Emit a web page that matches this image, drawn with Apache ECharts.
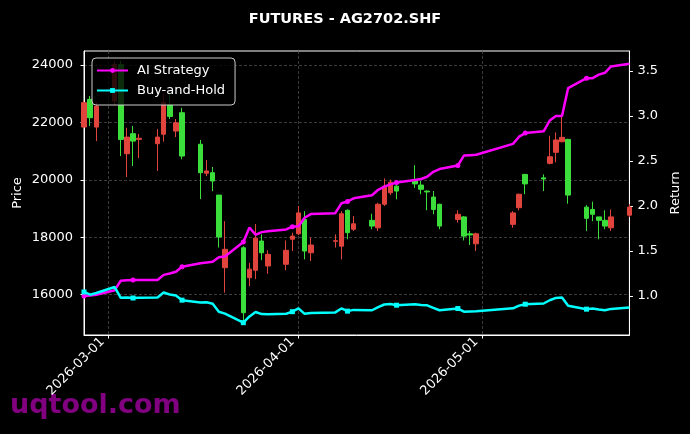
<!DOCTYPE html>
<html>
<head>
<meta charset="utf-8">
<script src="https://cdn.jsdelivr.net/npm/echarts@6/dist/echarts.min.js"></script>
<style>
html,body{margin:0;padding:0;background:#000;}
#c{width:690px;height:434px;}
</style>
</head>
<body>
<div id="c"></div>
<script>
// ---- data ----
const dates = [
 '2026-02-25','2026-02-26','2026-02-27','2026-03-02','2026-03-03','2026-03-04','2026-03-05','2026-03-06',
 '2026-03-09','2026-03-10','2026-03-11','2026-03-12','2026-03-13','2026-03-16','2026-03-17','2026-03-18',
 '2026-03-19','2026-03-20','2026-03-23','2026-03-24','2026-03-25','2026-03-26','2026-03-27','2026-03-30',
 '2026-03-31','2026-04-01','2026-04-02','2026-04-03','2026-04-07','2026-04-08','2026-04-09','2026-04-10',
 '2026-04-13','2026-04-14','2026-04-15','2026-04-16','2026-04-17','2026-04-20','2026-04-21','2026-04-22',
 '2026-04-23','2026-04-24','2026-04-27','2026-04-28','2026-04-29','2026-04-30','2026-05-06','2026-05-07',
 '2026-05-08','2026-05-11','2026-05-12','2026-05-13','2026-05-14','2026-05-15','2026-05-18','2026-05-19',
 '2026-05-20','2026-05-21','2026-05-22','2026-05-25'
];
const opens = [
 21840,22805,21840,22750,24020,20910,21610,21410,21260,21590,22620,21700,22340,21240,20230,20250,
 19470,16940,17635,16590,16850,17870,17000,17060,17930,18120,18620,17460,17860,17690,18940,18280,
 18590,18330,19150,19550,19780,19980,19820,19610,19400,19150,18620,18710,18120,17770,18450,19030,
 20190,20070,20575,20960,21330,21410,19050,18970,18710,18590,18330,18770
];
const closes = [
 22690,22164,22570,24020,21410,21490,21350,21450,21490,22700,22210,21990,20830,20250,20310,19960,
 18010,17580,15370,16890,17970,17460,17405,17545,18040,18850,17520,17730,17880,18820,18160,18470,
 18390,19150,19780,19920,19610,19860,19670,19580,18970,18390,18800,18040,18080,18120,18850,19500,
 19860,20030,20805,21390,21480,19470,18660,18800,18590,18390,18710,19050
];
const lows = [
 21800,21875,21350,22600,20830,20100,20480,20760,20310,21330,22120,21490,20715,19330,20130,19610,
 17640,16070,15020,16300,16540,17200,16730,16850,17520,18080,17230,17170,17640,17230,17930,18220,
 18280,18220,19090,19470,19320,19720,19500,18940,18800,18280,18510,17890,17730,17520,18330,18940,
 19500,19610,20540,20610,21310,19170,18220,18560,17930,18280,18220,18700
];
const highs = [
 22750,22920,22700,24150,24150,21815,21875,21600,21770,23000,22990,22120,22510,21390,20690,20450,
 19470,18560,17690,17110,18460,18100,17545,17890,18160,19090,18910,17985,18100,18910,18970,18740,
 18820,19200,20050,20010,19860,20510,19960,19635,19610,19170,18940,18740,18220,18160,18910,19520,
 20210,20190,21535,21655,22200,21430,19120,19240,18710,18940,18970,19150
];
const aiReturn = [
 1.000,1.005,1.015,1.065,1.170,1.175,1.178,1.178,1.178,1.235,1.250,1.270,1.326,1.365,1.372,1.380,
 1.430,1.440,1.600,1.760,1.680,1.710,1.720,1.740,1.770,1.775,1.870,1.910,1.920,2.030,2.050,2.085,
 2.120,2.180,2.215,2.240,2.260,2.290,2.300,2.325,2.380,2.410,2.450,2.560,2.565,2.570,2.690,2.770,
 2.810,2.830,2.950,3.000,3.000,3.310,3.420,3.420,3.460,3.480,3.550,3.580
];
const bhReturn = [
 1.045,1.015,1.033,1.100,0.980,0.984,0.978,0.982,0.984,1.039,1.017,1.007,0.954,0.927,0.930,0.914,
 0.825,0.805,0.704,0.773,0.823,0.799,0.797,0.803,0.826,0.863,0.802,0.812,0.818,0.862,0.832,0.846,
 0.842,0.877,0.906,0.912,0.898,0.909,0.901,0.897,0.869,0.842,0.861,0.826,0.828,0.830,0.863,0.893,
 0.909,0.917,0.953,0.979,0.984,0.891,0.854,0.861,0.851,0.842,0.857,0.872
];
const xTickLabels = ['2026-03-01','2026-04-01','2026-05-01'];
const priceTicks = [16000,18000,20000,22000,24000];
const returnTicks = [1.0,1.5,2.0,2.5,3.0,3.5];
const seriesNames = ['AI Strategy','Buy-and-Hold'];
const titleText = 'FUTURES - AG2702.SHF';

// ---- chart ----
const FONT = '"DejaVu Sans", sans-serif';
const UP = '#e0443d', DOWN = '#3bde3b';
const MARK_EVERY = 6;

const ts = s => new Date(s + 'T00:00:00').getTime();
const xs = dates.map(ts);
const xTickValues = xTickLabels.map(ts);

const candleData = xs.map((x, i) => [x, opens[i], closes[i], lows[i], highs[i]]);
function lineData(vals) {
  return xs.map((x, i) => i % MARK_EVERY === 0 ? [x, vals[i]] : {value: [x, vals[i]], symbol: 'none'});
}
function fmtDate(v) {
  const d = new Date(v);
  const p = n => (n < 10 ? '0' : '') + n;
  return d.getFullYear() + '-' + p(d.getMonth() + 1) + '-' + p(d.getDate());
}

const gridLine = {show: true, lineStyle: {color: '#4a4a4a', type: [3, 2], width: 0.8}};
const chart = echarts.init(document.getElementById('c'), null, {renderer: 'canvas'});
chart.setOption({
  backgroundColor: '#000',
  animation: false,
  title: {
    text: titleText, left: 'center', top: 12, padding: 0,
    textStyle: {color: '#fff', fontFamily: FONT, fontWeight: 'bold', fontSize: 14.5}
  },
  grid: {left: 84, right: 60, top: 51, bottom: 99, show: true, borderColor: '#fff', borderWidth: 1, backgroundColor: 'transparent'},
  legend: {
    data: seriesNames, orient: 'vertical', left: 92, top: 58,
    backgroundColor: 'rgba(0,0,0,0.8)', borderColor: '#cccccc', borderWidth: 1, borderRadius: 4,
    padding: [6, 10, 8, 4], itemGap: 7, itemWidth: 31, itemHeight: 6,
    textStyle: {color: '#fff', fontFamily: FONT, fontSize: 13, padding: [0, 0, 0, 4]}
  },
  xAxis: {
    type: 'value', min: xs[0], max: xs[xs.length - 1], scale: true,
    axisLine: {show: true, onZero: false, lineStyle: {color: '#fff'}},
    axisTick: {show: true, length: 3.5, lineStyle: {color: '#fff'}, customValues: xTickValues},
    axisLabel: {customValues: xTickValues, rotate: 45, color: '#fff', fontFamily: FONT, fontSize: 13, margin: 8,
      verticalAlign: 'bottom', padding: [0, 2, 0, 0], formatter: v => fmtDate(v)},
    splitLine: gridLine
  },
  yAxis: [
    {
      type: 'value', min: 14595, max: 24490, position: 'left',
      name: 'Price', nameLocation: 'middle', nameGap: 60, nameMoveOverlap: false,
      nameTextStyle: {color: '#fff', fontFamily: FONT, fontSize: 13},
      axisLine: {show: true, lineStyle: {color: '#fff'}},
      axisTick: {show: true, length: 3.5, lineStyle: {color: '#fff'}, customValues: priceTicks},
      axisLabel: {customValues: priceTicks, color: '#fff', fontFamily: FONT, fontSize: 13, margin: 11, formatter: v => String(v)},
      splitLine: gridLine
    },
    {
      type: 'value', min: 0.567, max: 3.722, position: 'right',
      name: 'Return', nameLocation: 'middle', nameGap: 37,
      nameTextStyle: {color: '#fff', fontFamily: FONT, fontSize: 13},
      axisLine: {show: true, lineStyle: {color: '#fff'}},
      axisTick: {show: true, length: 3.5, lineStyle: {color: '#fff'}, customValues: returnTicks},
      axisLabel: {customValues: returnTicks, color: '#fff', fontFamily: FONT, fontSize: 13, margin: 8, formatter: v => v.toFixed(1)},
      splitLine: {show: false}
    }
  ],
  graphic: [{
    type: 'text', left: 10, top: 392, z: 0,
    style: {text: 'uqtool.com', fill: '#800080', font: 'bold 27px "DejaVu Sans"'}
  }],
  series: [
    {
      type: 'candlestick', name: 'Price', xAxisIndex: 0, yAxisIndex: 0,
      data: candleData, encode: {x: 0, y: [1, 2, 3, 4]},
      barWidth: 5, clip: true,
      itemStyle: {color: UP, color0: DOWN, borderColor: UP, borderColor0: DOWN, borderWidth: 1}
    },
    {
      type: 'line', name: seriesNames[0], yAxisIndex: 1, data: lineData(aiReturn),
      symbol: 'circle', symbolSize: 5, showSymbol: true, showAllSymbol: true,
      lineStyle: {color: '#ff00ff', width: 2.5}, itemStyle: {color: '#ff00ff'}
    },
    {
      type: 'line', name: seriesNames[1], yAxisIndex: 1, data: lineData(bhReturn),
      symbol: 'rect', symbolSize: 5, showSymbol: true, showAllSymbol: true,
      lineStyle: {color: '#00ffff', width: 2.5}, itemStyle: {color: '#00ffff'}
    }
  ]
});
</script>
</body>
</html>
